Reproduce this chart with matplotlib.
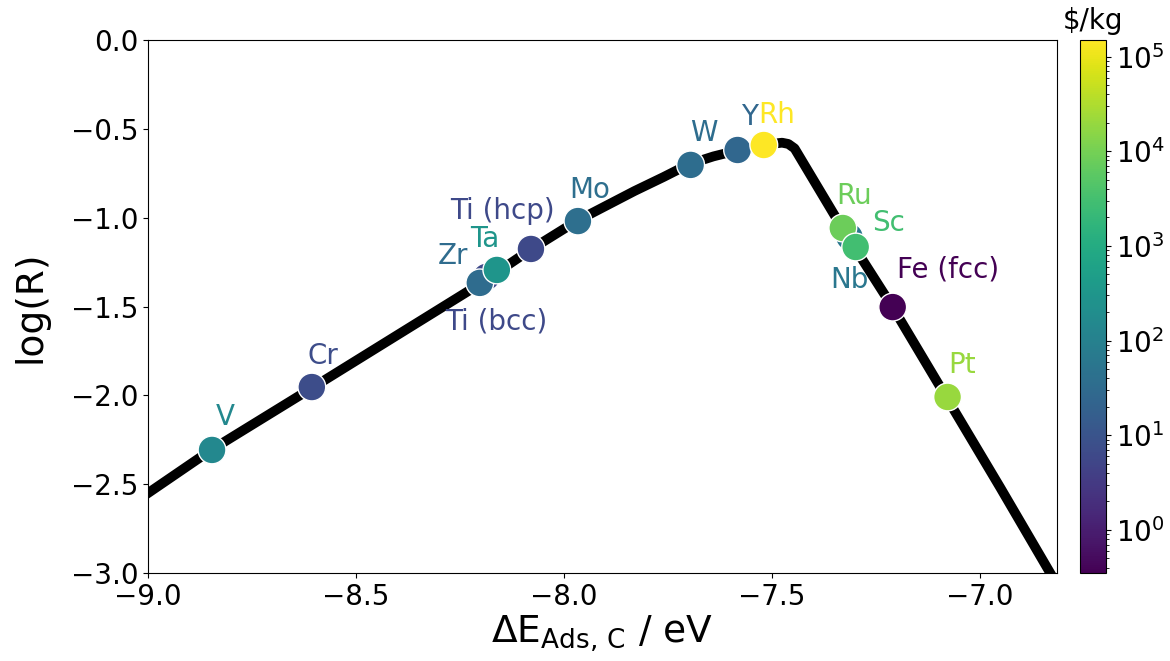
import numpy as np
import matplotlib
matplotlib.use("Agg")
import matplotlib.pyplot as plt
from matplotlib.colors import LogNorm

# volcano curve
curve_x = [-9.0, -8.85, -8.6, -8.4, -8.2, -8.08, -7.97, -7.90, -7.83, -7.76, -7.7,
           -7.64, -7.58, -7.52, -7.475, -7.46, -7.445, -7.33, -7.21, -7.08, -6.95, -6.83]
curve_y = [-2.55, -2.31, -1.95, -1.66, -1.37, -1.18, -1.02, -0.935, -0.85, -0.771, -0.70,
           -0.655, -0.62, -0.59, -0.578, -0.585, -0.61, -1.06, -1.50, -2.01, -2.52, -3.0]

# metals (drawing order matters for the overlapping ones)
metals = ['V', 'Cr', 'Ti (bcc)', 'Zr', 'Ta', 'Ti (hcp)', 'Mo', 'W', 'Y', 'Rh',
          'Nb', 'Ru', 'Sc', 'Fe (fcc)', 'Pt']
e_ads = [-8.846, -8.606, -8.186, -8.202, -8.161, -8.079, -7.966, -7.695, -7.582, -7.519,
         -7.313, -7.329, -7.298, -7.209, -7.077]
log_r = [-2.307, -1.953, -1.333, -1.367, -1.294, -1.176, -1.019, -0.703, -0.619, -0.591,
         -1.108, -1.058, -1.165, -1.503, -2.009]
price = [150, 7, 6, 32, 300, 6, 37, 35, 25, 150000,
         60, 8000, 3000, 0.35, 20000]

# label offsets in pixels (dx right, dy down) from each marker
label_off = {'V': (13, -33), 'Cr': (11, -31), 'Ti (bcc)': (10, 45), 'Zr': (-27, -27),
             'Ta': (-12, -31), 'Ti (hcp)': (-29, -38), 'Mo': (12, -31), 'W': (13, -32),
             'Y': (12, -33), 'Rh': (13, -30), 'Nb': (0, 43), 'Ru': (11, -32),
             'Sc': (33, -24), 'Fe (fcc)': (55, -38), 'Pt': (14, -32)}

fig = plt.figure(figsize=(11.7, 6.61), dpi=100)
ax = fig.add_axes([0.1265, 0.133, 0.7765, 0.8065])
cax = fig.add_axes([0.923, 0.133, 0.0222, 0.8065])

ax.plot(curve_x, curve_y, color='black', lw=7, solid_joinstyle='round', zorder=1)

norm = LogNorm(vmin=min(price), vmax=max(price))
cmap = plt.get_cmap('viridis')
sc = ax.scatter(e_ads, log_r, c=price, cmap=cmap, norm=norm, s=400,
                edgecolors='white', linewidths=1, zorder=3)

for name, x, y, p in zip(metals, e_ads, log_r, price):
    dx, dy = label_off[name]
    ax.annotate(name, (x, y), xytext=(dx * 0.72, -dy * 0.72), textcoords='offset points',
                ha='center', va='center', fontsize=20, color=cmap(norm(p)), zorder=4)

ax.set_xlim(-9.0, -6.815)
ax.set_ylim(-3.0, 0.0)
ax.set_xticks([-9.0, -8.5, -8.0, -7.5, -7.0])
ax.tick_params(labelsize=20)
ax.set_xlabel(r'$\Delta\mathrm{E}_{\mathrm{Ads,\,C}}$ / eV', fontsize=27, labelpad=2)
ax.set_ylabel('log(R)', fontsize=27, labelpad=16)

cb = fig.colorbar(sc, cax=cax)
cb.ax.tick_params(labelsize=20)
cb.ax.set_title(r'\$/kg', fontsize=20, pad=8)

fig.savefig('out.png', dpi=100)
